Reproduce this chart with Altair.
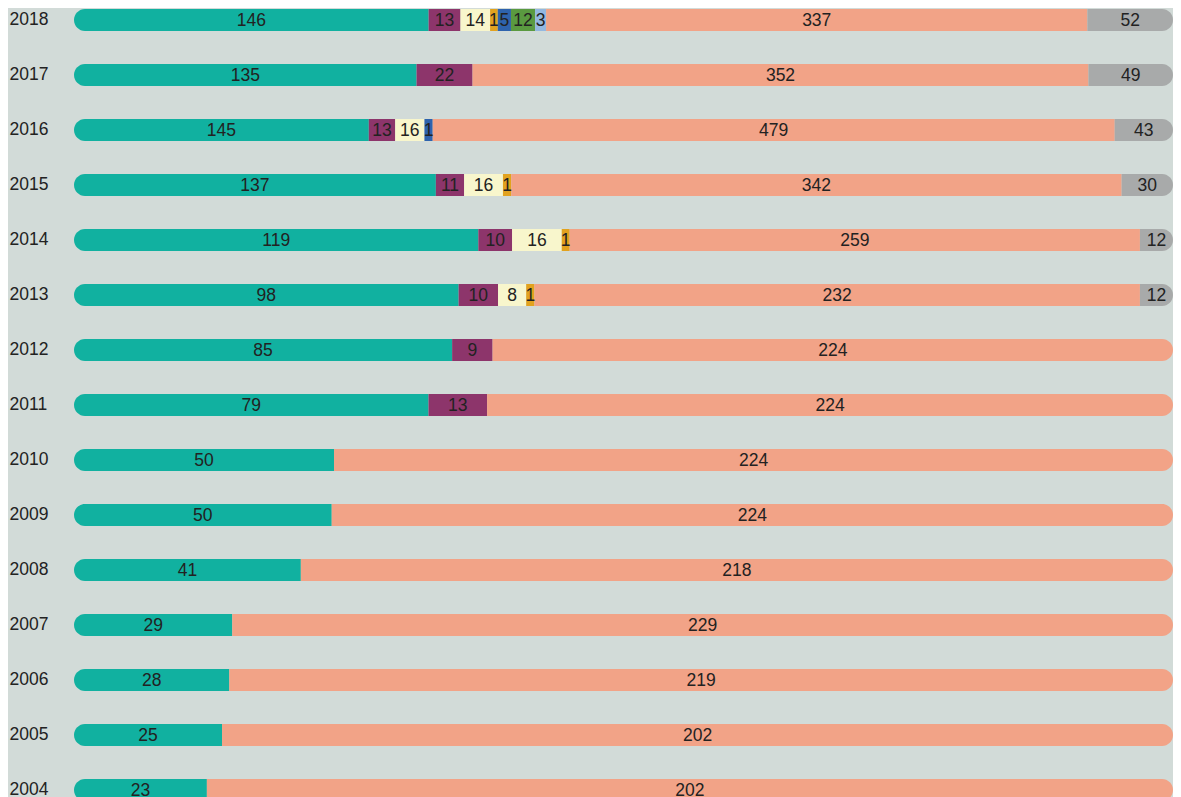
import altair as alt
import pandas as pd

years = [2018, 2017, 2016, 2015, 2014, 2013, 2012, 2011, 2010, 2009, 2008, 2007, 2006, 2005, 2004]

# labels printed in each segment (None = segment absent in that year)
teal_values = [146, 135, 145, 137, 119, 98, 85, 79, 50, 50, 41, 29, 28, 25, 23]
purple_values = [13, 22, 13, 11, 10, 10, 9, 13, None, None, None, None, None, None, None]
cream_values = [14, None, 16, 16, 16, 8, None, None, None, None, None, None, None, None, None]
gold_values = [1, None, None, 1, 1, 1, None, None, None, None, None, None, None, None, None]
blue_values = [5, None, 1, None, None, None, None, None, None, None, None, None, None, None, None]
green_values = [12, None, None, None, None, None, None, None, None, None, None, None, None, None, None]
sky_values = [3, None, None, None, None, None, None, None, None, None, None, None, None, None, None]
salmon_values = [337, 352, 479, 342, 259, 232, 224, 224, 224, 224, 218, 229, 219, 202, 202]
gray_values = [52, 49, 43, 30, 12, 12, None, None, None, None, None, None, None, None, None]

# share of the row each segment occupies (percent)
teal_share = [32.3, 31.2, 26.8, 32.9, 36.8, 35.0, 34.4, 32.25, 23.66, 23.45, 20.64, 14.4, 14.13, 13.47, 12.09]
purple_share = [2.9, 5.1, 2.4, 2.57, 3.07, 3.59, 3.68, 5.33, None, None, None, None, None, None, None]
cream_share = [2.7, None, 2.66, 3.53, 4.52, 2.56, None, None, None, None, None, None, None, None, None]
gold_share = [0.7, None, None, 0.75, 0.72, 0.75, None, None, None, None, None, None, None, None, None]
blue_share = [1.2, None, 0.75, None, None, None, None, None, None, None, None, None, None, None, None]
green_share = [2.2, None, None, None, None, None, None, None, None, None, None, None, None, None, None]
sky_share = [1.0, None, None, None, None, None, None, None, None, None, None, None, None, None, None]
salmon_share = [49.3, 56.1, 62.0, 55.5, 51.9, 55.1, 61.9, 62.4, 76.34, 76.55, 79.36, 85.6, 85.87, 86.53, 87.91]
gray_share = [7.8, 7.7, 5.3, 4.67, 3.01, 3.01, None, None, None, None, None, None, None, None, None]

categories = ["teal", "purple", "cream", "gold", "blue", "green", "sky", "salmon", "gray"]
colors = ["#11b1a0", "#8d356b", "#f8f6cc", "#e2a21e", "#2e63ad", "#5a9a40", "#93b8e0", "#f2a387", "#a8aaaa"]

series = [
    ("teal", teal_values, teal_share),
    ("purple", purple_values, purple_share),
    ("cream", cream_values, cream_share),
    ("gold", gold_values, gold_share),
    ("blue", blue_values, blue_share),
    ("green", green_values, green_share),
    ("sky", sky_values, sky_share),
    ("salmon", salmon_values, salmon_share),
    ("gray", gray_values, gray_share),
]

records = []
for i, yr in enumerate(years):
    segs = [(c, v[i], s[i]) for c, v, s in series if v[i] is not None]
    total = sum(s for _, _, s in segs)
    cum = 0.0
    for k, (c, v, s) in enumerate(segs):
        start = cum / total * 100
        cum += s
        end = cum / total * 100
        pos = "first" if k == 0 else ("last" if k == len(segs) - 1 else "mid")
        records.append(dict(year=str(yr), cat=c, value=v, start=start, end=end,
                            mid=(start + end) / 2, pos=pos))

df = pd.DataFrame(records)
year_order = [str(y) for y in years]
FONT = "Liberation Sans"

y_enc = alt.Y("year:N", sort=year_order,
              scale=alt.Scale(paddingInner=0.6, paddingOuter=0),
              axis=alt.Axis(title=None, domain=False, ticks=False, grid=False,
                            labelAlign="left", labelPadding=65, labelFontSize=17.5,
                            labelFont=FONT, labelColor="#222222", labelBaseline="middle"))
x_scale = alt.Scale(domain=[0, 100], nice=False, zero=False)
color_enc = alt.Color("cat:N", scale=alt.Scale(domain=categories, range=colors), legend=None)

base = alt.Chart(df).encode(y=y_enc)

first = base.transform_filter("datum.pos == 'first'").mark_bar(
    cornerRadiusTopLeft=11, cornerRadiusBottomLeft=11).encode(
    x=alt.X("start:Q", scale=x_scale, axis=None), x2="end:Q", color=color_enc)
mid = base.transform_filter("datum.pos == 'mid'").mark_bar().encode(
    x=alt.X("start:Q", scale=x_scale, axis=None), x2="end:Q", color=color_enc)
last = base.transform_filter("datum.pos == 'last'").mark_bar(
    cornerRadiusTopRight=11, cornerRadiusBottomRight=11).encode(
    x=alt.X("start:Q", scale=x_scale, axis=None), x2="end:Q", color=color_enc)

labels = base.mark_text(font=FONT, fontSize=17.5, color="#222222", baseline="middle", dy=1).encode(
    x=alt.X("mid:Q", scale=x_scale, axis=None), text="value:Q")

chart = alt.layer(first, mid, last, labels).properties(
    width=1099, height=792,
    autosize=alt.AutoSizeParams(type="none"),
    padding={"left": 66, "top": 1, "right": 0, "bottom": 0},
    background="#d2dbd8",
).configure_view(stroke=None)

chart.save("out.html", embed_options={"renderer": "svg", "actions": False})
